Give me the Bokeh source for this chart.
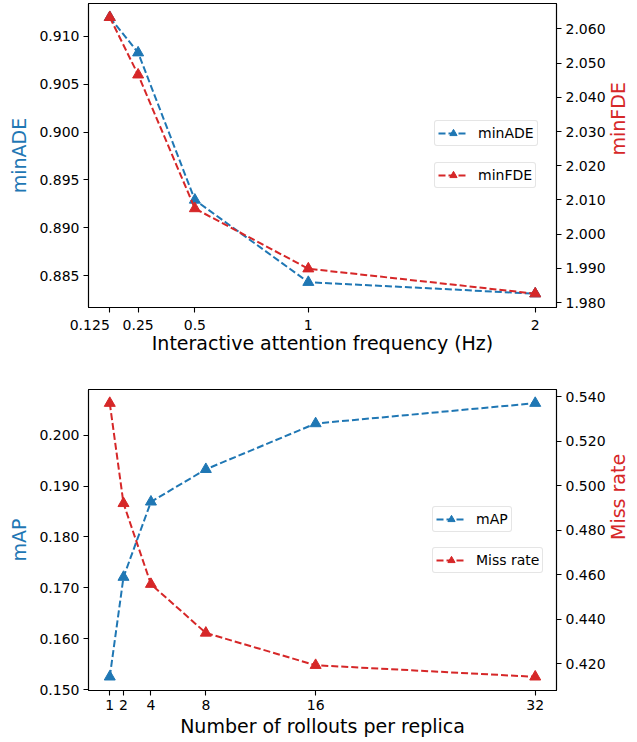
import math
from bokeh.plotting import figure
from bokeh.models import (Range1d, LinearAxis, FixedTicker, Legend, LegendItem,
                          PrintfTickFormatter)
from bokeh.layouts import column
from bokeh.embed import file_html
from bokeh.resources import INLINE

# ---- data ----
freq = [0.125, 0.25, 0.5, 1, 2]
freq_tick_labels = ["0.125", "0.25", "0.5", "1", "2"]
min_ade = [0.9120, 0.9083, 0.8929, 0.8843, 0.8831]
min_fde = [2.0634, 2.0466, 2.0075, 1.9899, 1.9826]
ade_ticks = [0.885, 0.890, 0.895, 0.900, 0.905, 0.910]
fde_ticks = [1.980, 1.990, 2.000, 2.010, 2.020, 2.030, 2.040, 2.050, 2.060]

rollouts = [1, 2, 4, 8, 16, 32]
rollout_tick_labels = ["1", "2", "4", "8", "16", "32"]
map_vals = [0.1525, 0.1721, 0.1869, 0.1933, 0.2023, 0.2063]
miss_rate = [0.5371, 0.4921, 0.4558, 0.4339, 0.4194, 0.4142]
map_ticks = [0.150, 0.160, 0.170, 0.180, 0.190, 0.200]
miss_ticks = [0.420, 0.440, 0.460, 0.480, 0.500, 0.520, 0.540]

BLUE = "#1f77b4"
RED = "#d62728"
FONT = "DejaVu Sans"
NBSP = "\u00a0"


def pad_range(vals, frac=0.05):
    lo, hi = min(vals), max(vals)
    span = hi - lo
    return Range1d(lo - frac * span, hi + frac * span)


def style_axis(ax, label_standoff=4):
    ax.axis_line_color = "black"
    ax.axis_line_width = 1.1
    ax.major_tick_line_color = "black"
    ax.major_tick_line_width = 1.1
    ax.major_tick_out = 5
    ax.major_tick_in = 0
    ax.minor_tick_out = 0
    ax.minor_tick_in = 0
    ax.major_label_text_font = FONT
    ax.major_label_text_font_size = "14px"
    ax.major_label_text_color = "black"
    ax.major_label_standoff = 4
    ax.axis_label_text_font = FONT
    ax.axis_label_text_font_size = "19px"
    ax.axis_label_text_font_style = "normal"
    ax.axis_label_text_color = "black"
    ax.axis_label_standoff = label_standoff


def make_panel(x, xlabels, y1, y2, y1_ticks, y2_ticks, xlabel, l1, l2,
               frame_h, border_top, border_bottom, leg1_y, leg2_y, leg_x,
               right_align_first=False, xlabel_standoff=2):
    p = figure(frame_width=468, frame_height=frame_h,
               output_backend="svg", toolbar_location=None,
               x_range=pad_range(x), y_range=pad_range(y1),
               min_border_left=88, min_border_right=70,
               min_border_top=border_top, min_border_bottom=border_bottom)
    p.extra_y_ranges = {"r": pad_range(y2)}
    p.xgrid.visible = False
    p.ygrid.visible = False
    p.outline_line_color = "black"
    p.outline_line_width = 1.1
    p.background_fill_color = "white"
    p.border_fill_color = "white"

    xa = p.xaxis[0]
    xa.ticker = FixedTicker(ticks=x)
    overrides = {v: s for v, s in zip(x, xlabels)}
    if right_align_first:
        # the first label sits to the left of its tick in the original
        overrides[x[0]] = xlabels[0] + NBSP * 9
    xa.major_label_overrides = overrides
    xa.axis_label = xlabel
    style_axis(xa, label_standoff=xlabel_standoff)

    ya = p.yaxis[0]
    ya.ticker = FixedTicker(ticks=y1_ticks)
    ya.formatter = PrintfTickFormatter(format="%.3f")
    ya.axis_label = l1
    style_axis(ya, label_standoff=6)
    ya.axis_label_text_color = BLUE

    ra = LinearAxis(y_range_name="r")
    ra.ticker = FixedTicker(ticks=y2_ticks)
    ra.formatter = PrintfTickFormatter(format="%.3f")
    ra.axis_label = l2
    style_axis(ra, label_standoff=9)
    ra.axis_label_text_color = RED
    if hasattr(ra, "axis_label_orientation"):
        ra.axis_label_orientation = math.pi / 2
    p.add_layout(ra, "right")

    ln1 = p.line(x, y1, line_color=BLUE, line_width=2, line_dash="7 3")
    sc1 = p.scatter(x, y1, marker="triangle", size=11, fill_color=BLUE, line_color=BLUE)
    ln2 = p.line(x, y2, line_color=RED, line_width=2, line_dash="7 3", y_range_name="r")
    sc2 = p.scatter(x, y2, marker="triangle", size=11, fill_color=RED, line_color=RED,
                    y_range_name="r")

    for label, rends, ly in ((l1, [ln1, sc1], leg1_y), (l2, [ln2, sc2], leg2_y)):
        leg = Legend(items=[LegendItem(label=label, renderers=rends)],
                     location=(leg_x, ly))
        leg.border_line_color = "#cccccc"
        leg.border_line_width = 1
        if hasattr(leg, "border_radius"):
            leg.border_radius = 3
        leg.background_fill_color = "white"
        leg.background_fill_alpha = 0.8
        leg.label_text_font = FONT
        leg.label_text_font_size = "14px"
        leg.label_text_color = "black"
        leg.glyph_width = 30
        leg.glyph_height = 18
        leg.label_height = 18
        leg.label_standoff = 10
        leg.padding = 3
        leg.spacing = 0
        leg.margin = 0
        p.add_layout(leg)
    return p


p1 = make_panel(freq, freq_tick_labels, min_ade, min_fde, ade_ticks, fde_ticks,
                "Interactive attention frequency (Hz)", "minADE", "minFDE",
                frame_h=304, border_top=3, border_bottom=60,
                leg1_y=161, leg2_y=119, leg_x=346, right_align_first=True,
                xlabel_standoff=-4)
p2 = make_panel(rollouts, rollout_tick_labels, map_vals, miss_rate, map_ticks, miss_ticks,
                "Number of rollouts per replica", "mAP", "Miss rate",
                frame_h=301, border_top=22, border_bottom=46,
                leg1_y=158, leg2_y=117, leg_x=344)

layout = column(p1, p2, spacing=0)
open("out.html", "w").write(file_html(layout, INLINE))
